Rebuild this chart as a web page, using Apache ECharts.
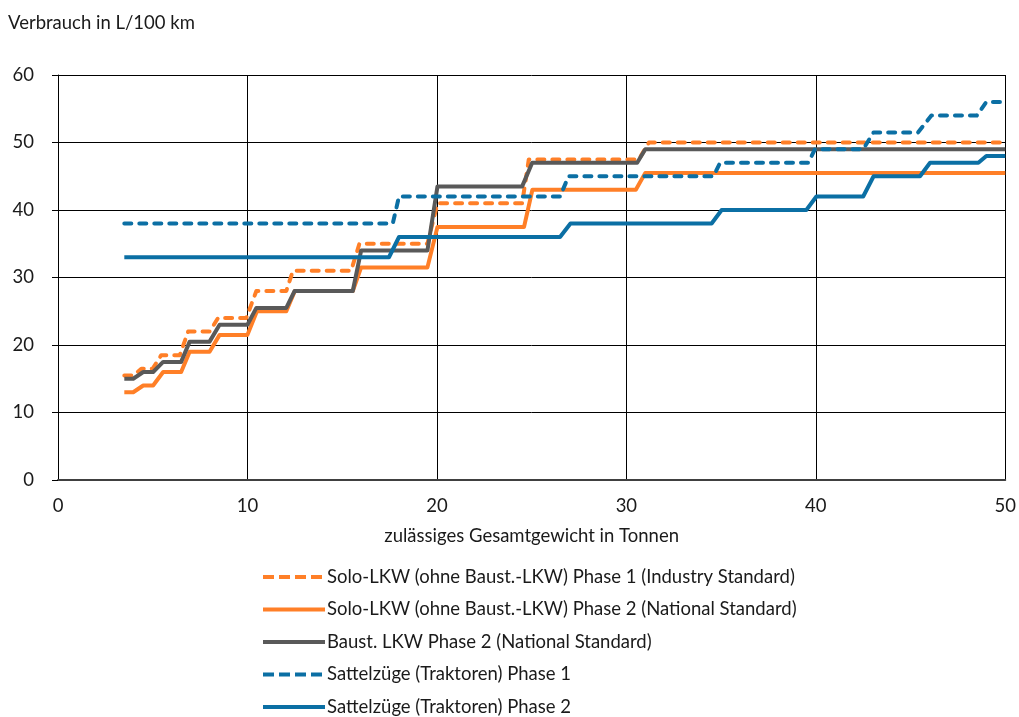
<!DOCTYPE html>
<html>
<head>
<meta charset="utf-8">
<script src="https://cdn.jsdelivr.net/npm/echarts@6/dist/echarts.min.js"></script>
<style>
html,body{margin:0;padding:0;background:#fff;}
#chart{width:1019px;height:717px;}
</style>
</head>
<body>
<div id="chart"></div>
<script>
// Series names
var seriesNames = [
  'Solo-LKW (ohne Baust.-LKW) Phase 1 (Industry Standard)',
  'Solo-LKW (ohne Baust.-LKW) Phase 2 (National Standard)',
  'Baust. LKW Phase 2 (National Standard)',
  'Sattelzüge (Traktoren) Phase 1',
  'Sattelzüge (Traktoren) Phase 2'
];
// x = zulässiges Gesamtgewicht (t), y = Verbrauch (L/100 km)
var soloP1X = [3.5, 4.0, 4.4, 5.0, 5.45, 6.43, 6.87, 8.0, 8.45, 9.94, 10.47, 12.05, 12.4, 15.47, 15.91, 19.5, 20.03, 24.5, 24.85, 30.66, 31.19, 50];
var soloP1Y = [15.5, 15.5, 16.5, 16.5, 18.5, 18.5, 22, 22, 24, 24, 28, 28, 31, 31, 35, 35, 41, 41, 47.5, 47.5, 50, 50];

var soloP2X = [3.5, 3.97, 4.5, 5.02, 5.55, 6.5, 6.95, 8.0, 8.53, 10.0, 10.5, 12.05, 12.5, 15.56, 16.0, 19.5, 20.03, 24.6, 25.04, 30.5, 31.0, 50];
var soloP2Y = [13, 13, 14, 14, 16, 16, 19, 19, 21.5, 21.5, 25, 25, 28, 28, 31.5, 31.5, 37.5, 37.5, 43, 43, 45.5, 45.5];

var baustX = [3.5, 3.97, 4.5, 5.02, 5.55, 6.5, 6.95, 8.0, 8.53, 10.0, 10.47, 12.05, 12.49, 15.56, 16.0, 19.5, 20.03, 24.5, 25.03, 30.57, 31.0, 50];
var baustY = [15, 15, 16, 16, 17.5, 17.5, 20.5, 20.5, 23, 23, 25.5, 25.5, 28, 28, 34, 34, 43.5, 43.5, 47, 47, 49, 49];

var sattelP1X = [3.5, 17.67, 18.0, 26.5, 26.95, 34.6, 34.95, 39.6, 39.95, 42.5, 43.05, 45.4, 46.1, 48.5, 49.0, 50];
var sattelP1Y = [38, 38, 42, 42, 45, 45, 47, 47, 49, 49, 51.5, 51.5, 54, 54, 56, 56];

var sattelP2X = [3.5, 17.47, 18.0, 26.5, 27.05, 34.5, 35.03, 39.5, 40.03, 42.5, 43.05, 45.5, 46.03, 48.58, 49.0, 50];
var sattelP2Y = [33, 33, 36, 36, 38, 38, 40, 40, 42, 42, 45, 45, 47, 47, 48, 48];

var xTicks = [0, 10, 20, 30, 40, 50];
var yTicks = [0, 10, 20, 30, 40, 50, 60];

function pairs(xs, ys) {
  var out = [];
  for (var i = 0; i < xs.length; i++) out.push([xs[i], ys[i]]);
  return out;
}

var ORANGE = '#FF7F27';
var GREY = '#595959';
var BLUE = '#0B6FA4';
var FONT = 'Lato';
var FS = 18.5;
var TXT = '#1a1a1a';

var ICON_SOLID = 'path://M0,0h62v4h-62z';
var ICON_DASH = 'path://M0,0h11v4h-11z M16,0h11v4h-11z M32,0h11v4h-11z M48,0h11v4h-11z M62,0h0v4h0z';

function mk(name, xs, ys, color, dashed) {
  return {
    name: name,
    type: 'line',
    data: pairs(xs, ys),
    showSymbol: false,
    symbol: 'none',
    animation: false,
    color: color,
    lineStyle: {
      color: color,
      width: 4,
      type: dashed ? [7, 8] : 'solid',
      cap: dashed ? 'round' : 'butt',
      join: 'round'
    },
    itemStyle: { color: color }
  };
}

var chart = echarts.init(document.getElementById('chart'), null, { renderer: 'canvas' });
chart.setOption({
  animation: false,
  backgroundColor: '#fff',
  textStyle: { fontFamily: FONT, color: TXT },
  title: {
    text: 'Verbrauch in L/100 km',
    left: 8,
    top: 14,
    padding: 0,
    textStyle: { fontFamily: FONT, fontSize: FS, fontWeight: 'normal', color: TXT }
  },
  grid: { left: 58, right: 12, top: 75, bottom: 237, containLabel: false },
  xAxis: {
    type: 'value',
    min: xTicks[0],
    max: xTicks[xTicks.length - 1],
    interval: 10,
    name: 'zulässiges Gesamtgewicht in Tonnen',
    nameLocation: 'middle',
    nameGap: 47,
    nameTextStyle: { fontFamily: FONT, fontSize: FS, color: TXT },
    axisLine: { show: true, lineStyle: { color: '#404040', width: 2 } },
    axisTick: { show: false },
    axisLabel: { fontFamily: FONT, fontSize: FS, color: TXT, margin: 17 },
    splitLine: { show: true, lineStyle: { color: '#000', width: 1 } }
  },
  yAxis: {
    type: 'value',
    min: yTicks[0],
    max: yTicks[yTicks.length - 1],
    interval: 10,
    axisLine: { show: true, lineStyle: { color: '#000', width: 1 } },
    axisTick: { show: true, length: 6, lineStyle: { color: '#000' } },
    axisLabel: { fontFamily: FONT, fontSize: FS, color: TXT, margin: 24 },
    splitLine: { show: true, lineStyle: { color: '#000', width: 1 } }
  },
  legend: {
    orient: 'vertical',
    left: 263,
    top: 567,
    padding: 0,
    itemWidth: 62,
    itemHeight: 4,
    itemGap: 12.5,
    textStyle: { fontFamily: FONT, fontSize: FS, lineHeight: 20, color: TXT, padding: [0, 0, 0, -3] },
    data: [
      { name: seriesNames[0], icon: ICON_DASH },
      { name: seriesNames[1], icon: ICON_SOLID },
      { name: seriesNames[2], icon: ICON_SOLID },
      { name: seriesNames[3], icon: ICON_DASH },
      { name: seriesNames[4], icon: ICON_SOLID }
    ]
  },
  series: [
    mk(seriesNames[0], soloP1X, soloP1Y, ORANGE, true),
    mk(seriesNames[1], soloP2X, soloP2Y, ORANGE, false),
    mk(seriesNames[2], baustX, baustY, GREY, false),
    mk(seriesNames[3], sattelP1X, sattelP1Y, BLUE, true),
    mk(seriesNames[4], sattelP2X, sattelP2Y, BLUE, false)
  ]
});
</script>
</body>
</html>
